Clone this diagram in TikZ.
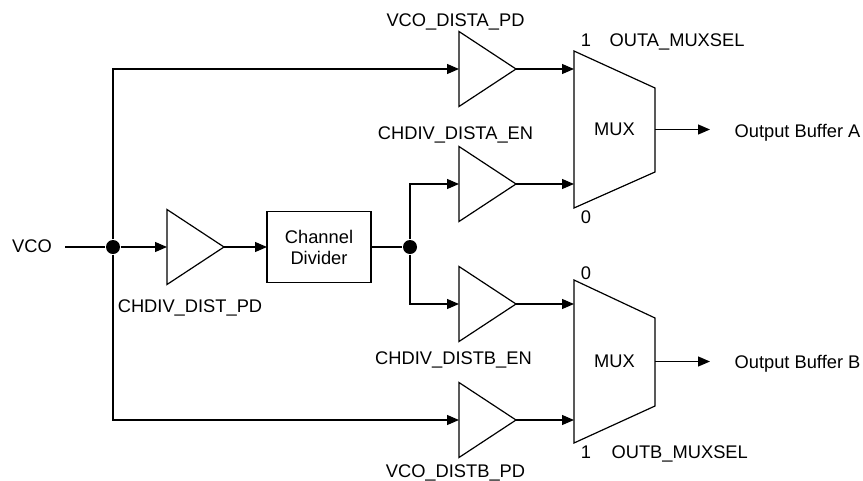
\documentclass[tikz,border=0pt]{standalone}
\usepackage{fontspec}
\setmainfont{Liberation Sans}
\usetikzlibrary{shapes.geometric,arrows.meta}

\begin{document}
\begin{tikzpicture}[x=1pt,y=-1pt,line width=1.2pt,
  font=\fontsize{18.3}{21}\selectfont,
  >={Triangle[length=12pt,width=10pt]},
  buf/.style={draw,isosceles triangle,isosceles triangle stretches,
    minimum width=75pt,minimum height=57pt,inner sep=0pt,outer sep=0pt,
    anchor=lower side},
  muxbox/.style={minimum width=81pt,inner sep=0pt,outer sep=0pt},
  dot/.style={circle,fill,inner sep=0pt,minimum size=14pt},
  lbl/.style={anchor=base,inner sep=0pt}]
  \useasboundingbox (0,0) rectangle (863,480);
  % Entrada VCO
  \node[lbl,inner xsep=13pt] (vco) at (32,252) {VCO};
  \node[dot] (jA) at (113,247) {};
  \draw (jA -| vco.east) -- (jA);
  % Buffers
  \node[buf] (dist) at (167,247) {};
  \node[buf] (vA) at (459,69) {};
  \node[buf] (cA) at (459,184) {};
  \node[buf] (cB) at (459,304) {};
  \node[buf] (vB) at (459,420) {};
  % Divisor de canal
  \node[draw,align=center,minimum width=104pt,minimum height=71pt,
    inner sep=0pt,outer sep=0pt] (div) at (319,247) {Channel\\Divider};
  \node[dot] (jB) at (410,247) {};
  % Multiplexores
  \node[muxbox,minimum height=157pt] (muxA) at (614.5,129.5) {MUX};
  \node[muxbox,minimum height=163pt] (muxB) at (614.5,361.5) {MUX};
  \draw (muxA.north west) -- ([yshift=-37pt]muxA.north east)
    -- ([yshift=36pt]muxA.south east) -- (muxA.south west) -- cycle;
  \draw (muxB.north west) -- ([yshift=-38pt]muxB.north east)
    -- ([yshift=37pt]muxB.south east) -- (muxB.south west) -- cycle;
  % Conexiones
  \draw[->] (jA) -- (dist.lower side);
  \draw[->] (jA) |- (vA.lower side);
  \draw[->] (jA) |- (vB.lower side);
  \draw[->] (dist.apex) -- (div);
  \draw (div) -- (jB);
  \draw[->] (jB) |- (cA.lower side);
  \draw[->] (jB) |- (cB.lower side);
  \draw[->] (vA.apex) -- (vA.apex -| muxA.west);
  \draw[->] (cA.apex) -- (cA.apex -| muxA.west);
  \draw[->] (cB.apex) -- (cB.apex -| muxB.west);
  \draw[->] (vB.apex) -- (vB.apex -| muxB.west);
  % Salidas
  \node[anchor=base west,inner ysep=0pt,inner xsep=24pt] (outA) at (710,137) {Output Buffer A};
  \node[anchor=base west,inner ysep=0pt,inner xsep=24pt] (outB) at (710,368) {Output Buffer B};
  \draw[->] (muxA.east) -- (muxA.east -| outA.west);
  \draw[->] (muxB.east) -- (muxB.east -| outB.west);
  % Etiquetas
  \node[lbl] (lDist) at (190,312) {CHDIV\_DIST\_PD};
  \node[lbl] (lvA) at (455.5,26) {VCO\_DISTA\_PD};
  \node[lbl] (lcA) at (455.5,139) {CHDIV\_DISTA\_EN};
  \node[lbl] (lcB) at (453.5,364) {CHDIV\_DISTB\_EN};
  \node[lbl] (lvB) at (455.5,477) {VCO\_DISTB\_PD};
  \node[lbl] (oneA) at (586,46) {1};
  \node[lbl] (zeroA) at (586,223) {0};
  \node[lbl] (zeroB) at (586,279) {0};
  \node[lbl] (oneB) at (586,458) {1};
  \node[lbl,anchor=base west] (selA) at (609,46) {OUTA\_MUXSEL};
  \node[lbl,anchor=base west] (selB) at (611,458) {OUTB\_MUXSEL};
\end{tikzpicture}
\end{document}
